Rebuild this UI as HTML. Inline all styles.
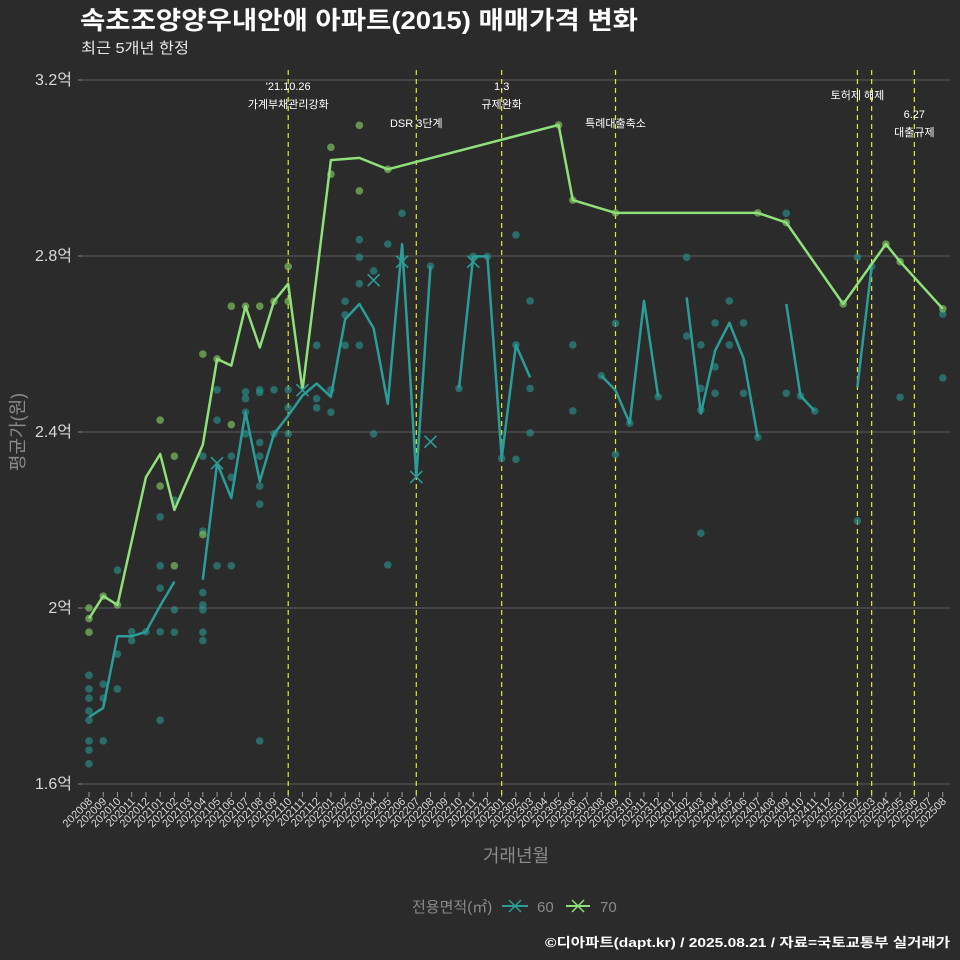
<!DOCTYPE html>
<html><head><meta charset="utf-8">
<style>
html,body{margin:0;padding:0;background:#2b2b2b;}
svg{display:block;font-family:"Liberation Sans","Noto Sans CJK KR",sans-serif;}
</style></head>
<body>
<svg id="chart" width="960" height="960" viewBox="0 0 960 960">
<rect width="960" height="960" fill="#2b2b2b"/>
<text x="80" y="29" fill="#ffffff" font-size="25" font-weight="bold" textLength="558" lengthAdjust="spacingAndGlyphs">속초조양양우내안애 아파트(2015) 매매가격 변화</text>
<text x="81" y="53" fill="#e8e8e8" font-size="15" textLength="108" lengthAdjust="spacingAndGlyphs">최근 5개년 한정</text>
<text transform="translate(24,432) rotate(-90)" text-anchor="middle" fill="#8a8a8a" font-size="18">평균가(원)</text>
<text x="516" y="862" text-anchor="middle" fill="#8a8a8a" font-size="18">거래년월</text>
<g>
<text x="412" y="912" fill="#8a8a8a" font-size="15">전용면적(㎡)</text>
<g>
<line x1="502" y1="906" x2="528" y2="906" stroke="#2a9d98" stroke-width="2"/>
<path d="M509,900 L521,912 M521,900 L509,912" stroke="#2a9d98" stroke-width="1.5"/>
<text x="537" y="912" fill="#8a8a8a" font-size="15">60</text>
</g>
<g>
<line x1="566" y1="906" x2="590" y2="906" stroke="#8fe07a" stroke-width="2"/>
<path d="M572,900 L584,912 M584,900 L572,912" stroke="#8fe07a" stroke-width="1.5"/>
<text x="600" y="912" fill="#8a8a8a" font-size="15">70</text>
</g>
</g>
<text x="950" y="947" text-anchor="end" fill="#ffffff" font-size="13" font-weight="bold" textLength="405" lengthAdjust="spacingAndGlyphs">©디아파트(dapt.kr) / 2025.08.21 / 자료=국토교통부 실거래가</text>
<g id="plot"></g>
</svg>
<script>
const months=[];
for(let y=2020,m=8;!(y===2025&&m>8);){months.push(y+String(m).padStart(2,'0'));m++;if(m>12){m=1;y++;}}
const yTicks=[1.6,2.0,2.4,2.8,3.2];
const yTickLabels=['1.6억','2억','2.4억','2.8억','3.2억'];
const line60=[1.752,1.773,1.936,1.936,1.946,2.005,2.06,null,2.064,2.329,2.25,2.445,2.288,2.396,2.437,2.483,2.51,2.48,2.656,2.691,2.636,2.464,2.827,2.298,2.777,null,2.499,2.799,2.799,2.34,2.598,2.524,null,null,null,null,2.528,2.495,2.42,2.698,2.48,null,2.706,2.442,2.585,2.648,2.567,2.388,null,2.691,2.482,2.448,null,null,2.502,2.776,null,2.479,null,null,null];
const line70=[1.976,2.027,2.007,null,2.297,2.35,2.223,null,2.371,2.566,2.551,2.686,2.592,2.697,2.737,2.495,null,3.018,null,3.023,null,2.997,null,null,null,null,null,null,null,null,null,null,null,3.098,2.927,null,null,2.898,null,null,null,null,null,null,null,null,null,2.898,null,2.876,null,null,null,2.691,null,null,2.827,2.787,null,null,2.68];
const dots60=[[0,1.847],[0,1.816],[0,1.795],[0,1.766],[0,1.745],[0,1.698],[0,1.677],[0,1.646],[1,1.827],[1,1.795],[1,1.698],[2,2.086],[2,1.895],[2,1.816],[3,1.946],[3,1.926],[4,1.946],[5,2.207],[5,2.096],[5,2.045],[5,1.946],[5,1.745],[6,2.245],[6,1.996],[6,1.945],[8,2.175],[8,2.035],[8,2.007],[8,1.996],[8,1.945],[8,1.926],[8,2.345],[9,2.496],[9,2.427],[9,2.096],[10,2.345],[10,2.297],[10,2.096],[11,2.491],[11,2.476],[11,2.396],[11,2.445],[12,2.496],[12,2.49],[12,2.376],[12,2.345],[12,2.277],[12,2.236],[12,1.698],[13,2.496],[13,2.396],[14,2.496],[14,2.455],[14,2.396],[16,2.597],[16,2.476],[16,2.455],[17,2.496],[17,2.445],[18,2.697],[18,2.666],[18,2.597],[19,2.837],[19,2.797],[19,2.737],[19,2.597],[20,2.766],[20,2.396],[21,2.827],[21,2.098],[22,2.897],[24,2.777],[26,2.499],[27,2.799],[28,2.799],[29,2.34],[30,2.848],[30,2.598],[30,2.338],[31,2.698],[31,2.499],[31,2.398],[34,2.598],[34,2.448],[37,2.647],[37,2.349],[42,2.797],[42,2.618],[43,2.598],[43,2.499],[43,2.45],[43,2.17],[44,2.648],[44,2.548],[44,2.488],[45,2.698],[45,2.598],[46,2.648],[46,2.488],[47,2.388],[49,2.897],[49,2.488],[50,2.482],[51,2.448],[54,2.797],[54,2.198],[55,2.776],[57,2.479],[60,2.668],[60,2.523],[36,2.528],[38,2.42],[40,2.48]];
const dots70=[[0,2.0],[0,1.945],[0,1.976],[1,2.027],[2,2.007],[5,2.427],[5,2.277],[6,2.345],[6,2.096],[8,2.577],[8,2.167],[9,2.566],[10,2.686],[10,2.417],[11,2.686],[12,2.686],[13,2.697],[14,2.776],[14,2.697],[17,3.047],[17,2.986],[19,3.097],[19,2.948],[21,2.997],[33,3.098],[34,2.927],[37,2.898],[47,2.898],[49,2.876],[53,2.691],[56,2.827],[57,2.787],[60,2.68]];
const marks60=[[9,2.329],[15,2.495],[20,2.745],[22,2.787],[23,2.298],[24,2.378],[27,2.787]];
const eventIdx=[14,23,29,37,54,55,58];
const eventLabels=[["'21.10.26","가계부채관리강화"],["DSR 3단계"],["1.3","규제완화"],["특례대출축소"],["토허제 해제"],[],["6.27","대출규제"]];
const eventLabelY=[90,127,90,127,99,0,118];

const X0=89,XS=14.23,Y0=784,YS=440,PL=82,PR=950,PT=70;
const xs=i=>X0+i*XS, ys=v=>Y0-(v-1.6)*YS;
const NS='http://www.w3.org/2000/svg';
const plot=document.getElementById('plot');
function el(t,a,p){const e=document.createElementNS(NS,t);for(const k in a)e.setAttribute(k,a[k]);(p||plot).appendChild(e);return e;}
yTicks.forEach((v,i)=>{
  const g=el('line',{x1:PL,x2:PR,y1:ys(v),y2:ys(v),stroke:'#5e5e5e','stroke-width':1});
  
  
  const t=el('text',{x:72,y:ys(v)+5,'text-anchor':'end',fill:'#d8d8d8','font-size':16});
  t.textContent=yTickLabels[i];
  
  
  const k=el('line',{x1:PL-4,x2:PL,y1:ys(v),y2:ys(v),stroke:'#888'});
  
  
});
months.forEach((m,i)=>{
  const k=el('line',{x1:xs(i),x2:xs(i),y1:792,y2:797,stroke:'#999'});
  
  
  const t=el('text',{transform:`translate(${xs(i)+4},${802}) rotate(-45)`,'text-anchor':'end',fill:'#d8d8d8','font-size':11});
  t.textContent=m;
  
  
});
eventIdx.forEach((ix,j)=>{
  const l=el('line',{x1:xs(ix),x2:xs(ix),y1:PT,y2:797,stroke:'#e6e62a','stroke-width':1.2,'stroke-dasharray':'5,4'});
  
  
  eventLabels[j].forEach((s,k)=>{
    const t=el('text',{x:xs(ix),y:eventLabelY[j]+k*18,'text-anchor':'middle',fill:'#ffffff','font-size':11});
    t.textContent=s;
    
    
  });
});
function drawLine(arr,color,name,connect){
  let d='',pen=false;
  arr.forEach((v,i)=>{if(v==null){if(!connect)pen=false;return;}d+=(pen?'L':'M')+xs(i).toFixed(1)+','+ys(v).toFixed(1);pen=true;});
  const p=el('path',{d:d,fill:'none',stroke:color,'stroke-width':2.5,'stroke-linejoin':'round'});
  
  
}
dots60.forEach(([i,v])=>{
  const c=el('circle',{cx:xs(i),cy:ys(v),r:3.8,fill:'#2a8f8a','fill-opacity':0.65});
  
  
});
dots70.forEach(([i,v])=>{
  const c=el('circle',{cx:xs(i),cy:ys(v),r:3.8,fill:'#7fc060','fill-opacity':0.7});
  
  
});
drawLine(line60,'#2a9d98','line-60',false);
drawLine(line70,'#8fe07a','line-70',true);
marks60.forEach(([i,v])=>{
  const x=xs(i),y=ys(v);
  const m=el('path',{d:`M${x-6},${y-6}L${x+6},${y+6}M${x+6},${y-6}L${x-6},${y+6}`,stroke:'#2a9d98','stroke-width':1.6});
  
  
});
</script>
</body></html>
